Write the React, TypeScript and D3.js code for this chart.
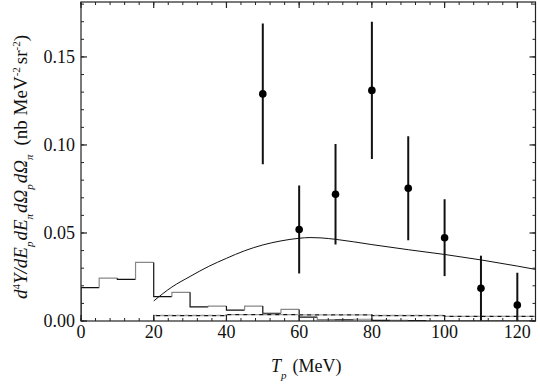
import React from "react";
import * as d3 from "d3";

// ---- data ----
const pointX = [50, 60, 70, 80, 90, 100, 110, 120];
const pointY = [0.129, 0.052, 0.072, 0.131, 0.0754, 0.0473, 0.0186, 0.0091];
const pointErr = [0.040, 0.025, 0.0285, 0.039, 0.0295, 0.0218, 0.0185, 0.0183];

const curveX = [20, 25, 30, 35, 40, 45, 50, 55, 60, 63, 66, 70, 80, 90, 100, 110, 120, 125];
const curveY = [0.0114, 0.0193, 0.0253, 0.0309, 0.0356, 0.0399, 0.0432, 0.0455, 0.0470, 0.0474, 0.0472, 0.0464, 0.0434, 0.0405, 0.0378, 0.0347, 0.0312, 0.0293];

const histEdges = [0, 5, 10, 15, 20, 25, 30, 35, 40, 45, 50, 55, 60, 65, 70, 75, 80, 85, 90, 95, 100, 125];
const histValues = [0.019, 0.0243, 0.0237, 0.0333, 0.0138, 0.0163, 0.0080, 0.0085, 0.0062, 0.0085, 0.0044, 0.0066, 0.0022, 0.0008, 0.0007, 0.0010, 0.0003, 0.0004, 0.0002, 0.0001, 0];

const dashEdges = [20, 40, 60, 80, 100, 125];
const dashValues = [0.0031, 0.0036, 0.0035, 0.0031, 0.0026];

const xTicks = [0, 20, 40, 60, 80, 100, 120];
const yTicks = [0, 0.05, 0.1, 0.15];

// ---- layout ----
const W = 540, H = 385;
const L = 81, R = 535.5, T = 2, B = 321;
const FONT = "'Liberation Serif', 'DejaVu Serif', serif";
const tStyle = { fontFamily: FONT };

export default function App() {
  const x = d3.scaleLinear().domain([0, 125]).range([L, R]);
  const y = d3.scaleLinear().domain([0, 0.1812]).range([B, T]);

  const curvePts: [number, number][] = curveX.map((v, i) => [x(v), y(curveY[i])]);
  const curvePath = d3.line().curve(d3.curveMonotoneX)(curvePts) || "";

  const histSegs: { d: string; color: string }[] = [];
  histValues.forEach((v, i) => {
    const x0 = x(histEdges[i]), x1 = x(histEdges[i + 1]);
    const prev = i === 0 ? 0 : histValues[i - 1];
    const d = `M${x0},${y(prev)}L${x0},${y(v)}L${x1},${y(v)}`;
    histSegs.push({ d, color: i % 2 === 0 ? "#111" : "#888" });
  });

  const dashPath = (() => {
    let p = `M${x(dashEdges[0])},${y(0)}`;
    dashValues.forEach((v, i) => {
      p += `L${x(dashEdges[i])},${y(v)}L${x(dashEdges[i + 1])},${y(v)}`;
    });
    return p;
  })();

  const xMinor = d3.range(0, 125.01, 4);
  const yMinor = d3.range(0, 0.1801, 0.01);

  return (
    <svg width={W} height={H} style={{ position: "absolute", left: 0, top: 0, background: "#fff" }}>
      <defs>
        <clipPath id="plotclip">
          <rect x={L} y={T} width={R - L} height={B - T} />
        </clipPath>
      </defs>

      <g clipPath="url(#plotclip)" fill="none">
        {histSegs.map((s, i) => (
          <path key={i} d={s.d} stroke={s.color} strokeWidth={1.2} />
        ))}
        <path d={dashPath} stroke="#999" strokeWidth={1.4} strokeDasharray="5,3" strokeDashoffset={4} />
        <path d={dashPath} stroke="#111" strokeWidth={1.2} strokeDasharray="4,4" />
        <path d={curvePath} stroke="#111" strokeWidth={1} />
        {pointX.map((v, i) => (
          <g key={i}>
            <line x1={x(v)} x2={x(v)} y1={y(pointY[i] + pointErr[i])} y2={y(pointY[i] - pointErr[i])}
              stroke="#111" strokeWidth={2} />
            <circle cx={x(v)} cy={y(pointY[i])} r={3.8} fill="#000" />
          </g>
        ))}
      </g>

      <rect x={L} y={T} width={R - L} height={B - T} fill="none" stroke="#222" strokeWidth={1.2} />

      {xMinor.map((v) => (
        <g key={"xm" + v} stroke="#222" strokeWidth={1}>
          <line x1={x(v)} x2={x(v)} y1={B} y2={B - 3} />
          <line x1={x(v)} x2={x(v)} y1={T} y2={T + 3} />
        </g>
      ))}
      {xTicks.map((v) => (
        <g key={"xM" + v}>
          <line x1={x(v)} x2={x(v)} y1={B} y2={B - 6} stroke="#222" strokeWidth={1.2} />
          <line x1={x(v)} x2={x(v)} y1={T} y2={T + 6} stroke="#222" strokeWidth={1.2} />
          <text x={x(v)} y={338} textAnchor="middle" fontSize={18} fill="#111" style={tStyle}>{v}</text>
        </g>
      ))}

      {yMinor.map((v, i) => (
        <g key={"ym" + i} stroke="#222" strokeWidth={1}>
          <line x1={L} x2={L + 3} y1={y(v)} y2={y(v)} />
          <line x1={R} x2={R - 3} y1={y(v)} y2={y(v)} />
        </g>
      ))}
      {yTicks.map((v) => (
        <g key={"yM" + v}>
          <line x1={L} x2={L + 6} y1={y(v)} y2={y(v)} stroke="#222" strokeWidth={1.2} />
          <line x1={R} x2={R - 6} y1={y(v)} y2={y(v)} stroke="#222" strokeWidth={1.2} />
          <text x={75} y={y(v) + 6} textAnchor="end" fontSize={18} fill="#111" style={tStyle}>{v.toFixed(2)}</text>
        </g>
      ))}

      <text x={271} y={372} fontSize={18} fill="#111" style={tStyle}>
        <tspan fontStyle="italic">T</tspan>
        <tspan fontSize={11} fontStyle="italic" dy={7}>p</tspan>
        <tspan dy={-7} dx={6}>(MeV)</tspan>
      </text>

      <text transform={`translate(27,167) rotate(-90)`} textAnchor="middle" fontSize={19} fill="#111" style={tStyle}>
        <tspan fontStyle="italic">d</tspan>
        <tspan fontSize={11} dy={-7}>4</tspan>
        <tspan fontStyle="italic" dy={7}>Y/dE</tspan>
        <tspan fontSize={11} fontStyle="italic" dy={6}>p</tspan>
        <tspan fontStyle="italic" dy={-6} dx={1}>dE</tspan>
        <tspan fontSize={11} fontStyle="italic" dy={6}>π</tspan>
        <tspan fontStyle="italic" dy={-6} dx={1}>dΩ</tspan>
        <tspan fontSize={11} fontStyle="italic" dy={6}>p</tspan>
        <tspan fontStyle="italic" dy={-6} dx={1}>dΩ</tspan>
        <tspan fontSize={11} fontStyle="italic" dy={6}>π</tspan>
        <tspan dy={-6} dx={9}>(nb MeV</tspan>
        <tspan fontSize={11} dy={-7}>-2</tspan>
        <tspan dy={7} dx={3}>sr</tspan>
        <tspan fontSize={11} dy={-7}>-2</tspan>
        <tspan dy={7}>)</tspan>
      </text>
    </svg>
  );
}
